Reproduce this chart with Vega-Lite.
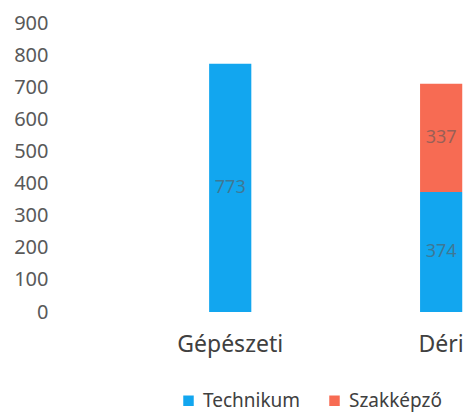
{
  "$schema": "https://vega.github.io/schema/vega-lite/v6.json",
  "width": 413,
  "height": 289,
  "autosize": {"type": "none"},
  "padding": {"left": 55, "top": 23, "right": 0, "bottom": 100},
  "background": "white",
  "config": {"view": {"stroke": null}, "font": "Noto Sans"},
  "data": {
    "values": [
      {"school": "Gépészeti", "type": "Technikum", "value": 773},
      {"school": "Déri", "type": "Technikum", "value": 374},
      {"school": "Déri", "type": "Szakképző", "value": 337}
    ]
  },
  "transform": [
    {"stack": "value", "groupby": ["school"], "sort": [{"field": "type", "order": "descending"}], "as": ["v0", "v1"]},
    {"calculate": "(datum.v0 + datum.v1) / 2", "as": "mid"}
  ],
  "encoding": {
    "x": {
      "field": "school",
      "type": "nominal",
      "sort": ["Gépészeti", "Déri"],
      "scale": {"domain": ["Gépészeti", "Déri"], "paddingInner": 0.8, "paddingOuter": 0.379, "align": 0.964},
      "axis": {"title": null, "labelAngle": 0, "labelFontSize": 23, "labelColor": "#404040", "labelPadding": 21, "ticks": false, "domain": false, "labelOverlap": false, "labelBound": false}
    }
  },
  "layer": [
    {
      "mark": {"type": "bar"},
      "encoding": {
        "y": {
          "field": "v0",
          "type": "quantitative",
          "scale": {"domain": [0, 900]},
          "axis": {"title": null, "values": [0, 100, 200, 300, 400, 500, 600, 700, 800, 900], "grid": false, "ticks": false, "domain": false, "labelFontSize": 20, "labelColor": "#595959", "labelPadding": 7, "labelOverlap": false, "labelFlush": false}
        },
        "y2": {"field": "v1"},
        "color": {
          "field": "type",
          "type": "nominal",
          "scale": {"domain": ["Technikum", "Szakképző"], "range": ["#12a6ef", "#f76b53"]},
          "legend": {"title": null, "orient": "none", "legendX": 124, "legendY": 368, "direction": "horizontal", "symbolType": "square", "symbolSize": 110, "symbolStrokeWidth": 0, "labelFontSize": 19, "labelColor": "#404040", "columnPadding": 24, "labelOffset": 5}
        }
      }
    },
    {
      "mark": {"type": "text", "fontSize": 18, "color": "#5a5a5a", "opacity": 0.6, "baseline": "middle"},
      "encoding": {
        "y": {
          "field": "mid",
          "type": "quantitative",
          "axis": {"title": null, "values": [0, 100, 200, 300, 400, 500, 600, 700, 800, 900], "grid": false, "ticks": false, "domain": false, "labelFontSize": 20, "labelColor": "#595959", "labelPadding": 7, "labelOverlap": false, "labelFlush": false}
        },
        "text": {"field": "value", "type": "quantitative"}
      }
    }
  ]
}
